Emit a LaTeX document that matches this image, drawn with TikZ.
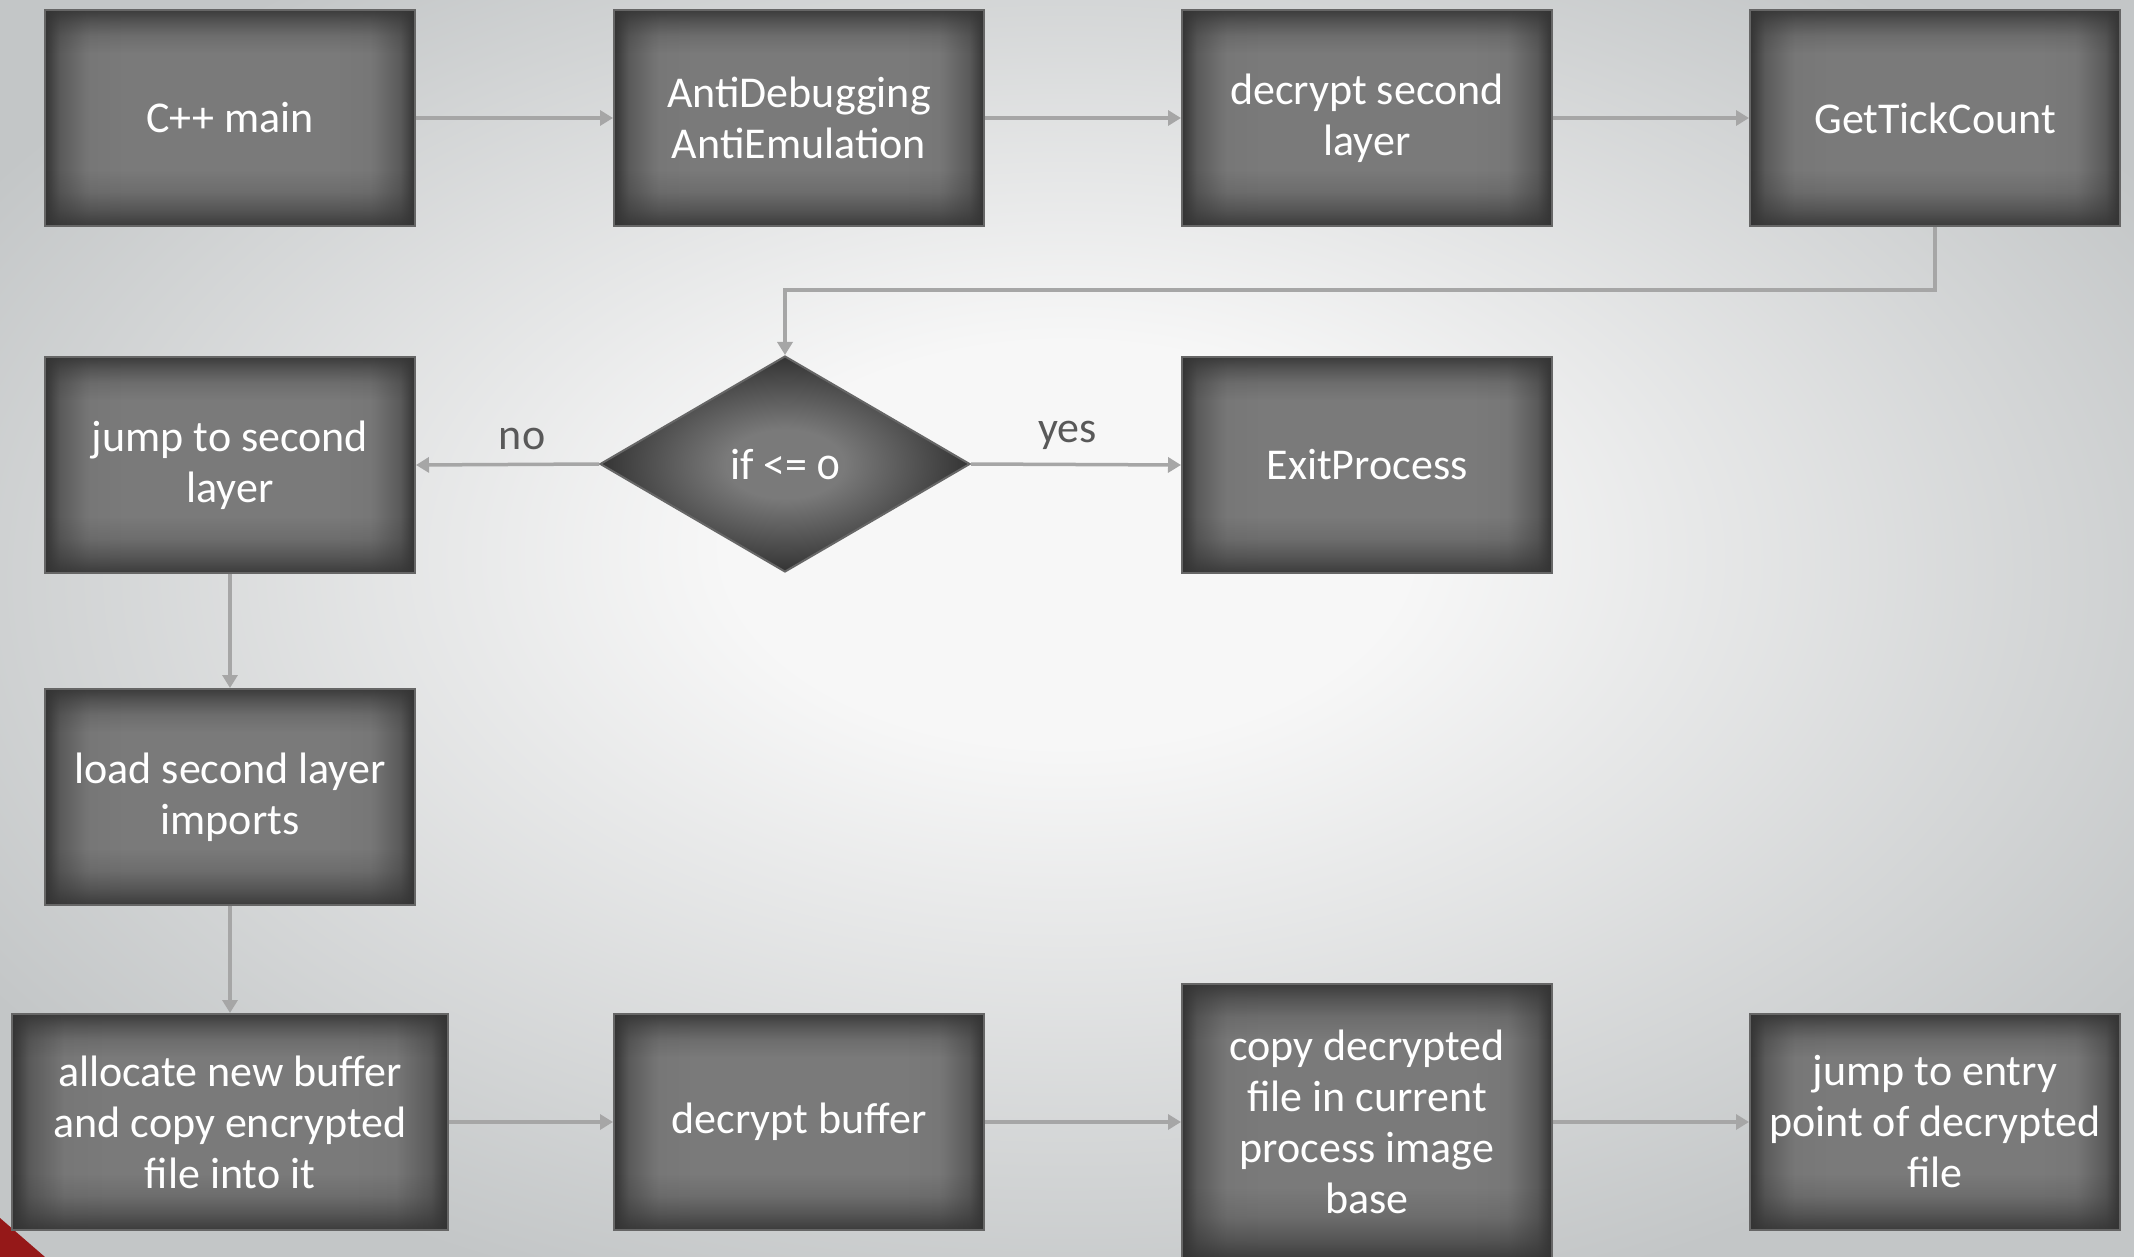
\documentclass[tikz,border=0pt]{standalone}
\usepackage{fontspec}
\setmainfont{Carlito}
\usetikzlibrary{arrows.meta,shapes.geometric,fadings}

\definecolor{boxlight}{HTML}{7A7A7A}
\definecolor{boxmid}{HTML}{5A5A5A}
\definecolor{boxdark}{HTML}{343434}
\definecolor{boxedge}{HTML}{666666}
\definecolor{linkgray}{HTML}{A6A6A6}
\definecolor{labelgray}{HTML}{595959}
\definecolor{bginner}{HTML}{F7F7F7}
\definecolor{bgouter}{HTML}{C3C6C7}
\definecolor{cornerred}{HTML}{951818}

% side bands of the boxes: dark at left and right, flat light centre
\pgfdeclarehorizontalshading{sidebands}{100bp}{%
  color(0bp)=(boxdark); color(25bp)=(boxdark); color(27bp)=(boxmid);
  color(31bp)=(boxlight!90!boxmid); color(36bp)=(boxlight); color(64bp)=(boxlight);
  color(69bp)=(boxlight!90!boxmid); color(73bp)=(boxmid); color(75bp)=(boxdark);
  color(100bp)=(boxdark)}
% mask for the top and bottom bands (white = opaque)
\pgfdeclareverticalshading{capmask}{100bp}{%
  color(0bp)=(white!90!black); color(25bp)=(white!90!black); color(29bp)=(white!50!black);
  color(33bp)=(white!18!black); color(38bp)=(black); color(65bp)=(black);
  color(69bp)=(white!18!black); color(72bp)=(white!50!black); color(75bp)=(white!90!black);
  color(100bp)=(white!90!black)}
\tikzfading[name=capbands, shading=capmask]

% centre-lit shading of the decision diamond
\pgfdeclareradialshading{diaglow}{\pgfpoint{0bp}{0bp}}{%
  color(0bp)=(boxlight); color(8bp)=(boxlight); color(25bp)=(boxdark); color(50bp)=(boxdark)}
% page background
\pgfdeclareradialshading{pageglow}{\pgfpoint{0bp}{4bp}}{%
  color(0bp)=(bginner); color(8bp)=(bginner); color(30bp)=(bgouter); color(50bp)=(bgouter)}

\tikzset{
  labeltext/.style={font=\fontsize{44}{51}\selectfont},
  stepbox/.style={rectangle, draw=boxedge, line width=2pt, shading=sidebands,
    path picture={\fill[boxdark, path fading=capbands]
      (path picture bounding box.south west) rectangle (path picture bounding box.north east);},
    minimum width=370pt, minimum height=216pt, inner sep=4pt,
    text=white, align=center, labeltext},
  decision/.style={diamond, draw=boxedge, line width=2pt, shading=diaglow,
    minimum width=370pt, minimum height=216pt, inner sep=0pt,
    text=white, align=center, labeltext},
  conn/.style={draw=linkgray, line width=3.5pt,
    -{Triangle[length=13pt,width=15pt]}},
  edgelabel/.style={text=labelgray, labeltext}
}

\begin{document}
\begin{tikzpicture}[x=1pt,y=-1pt]
  % page background
  \path[shading=pageglow] (0,0) rectangle (2134,1257);
  \useasboundingbox (0,0) rectangle (2134,1257);
  % red corner accent
  \fill[cornerred] (0,1218) -- (45,1257) -- (0,1257) -- cycle;

  % top row
  \node[stepbox] (cmain) at (230,118) {C++ main};
  \node[stepbox] (anti)  at (799,118) {AntiDebugging\\AntiEmulation};
  \node[stepbox] (dec2)  at (1367,118) {decrypt second\\layer};
  \node[stepbox] (tick)  at (1935,118) {GetTickCount};

  % decision row
  \node[stepbox]  (jump2) at (230,465) {jump to second\\layer};
  \node[decision] (check) at (785,464) {if <= {\addfontfeatures{Numbers=OldStyle}0}};
  \node[stepbox]  (exitp) at (1367,465) {ExitProcess};

  % loading
  \node[stepbox] (load) at (230,797) {load second layer\\imports};

  % bottom row
  \node[stepbox, minimum width=436pt] (alloc) at (230,1122)
    {allocate new buffer\\and copy encrypted\\file into it};
  \node[stepbox] (decbuf) at (799,1122) {decrypt buffer};
  \node[stepbox, minimum height=276pt] (copyimg) at (1367,1122)
    {copy decrypted\\file in current\\process image\\base};
  \node[stepbox] (entry) at (1935,1122) {jump to entry\\point of decrypted\\file};

  % connectors
  \draw[conn] (cmain) -- (anti);
  \draw[conn] (anti) -- (dec2);
  \draw[conn] (dec2) -- (tick);
  \coordinate (bend) at (785,290);
  \draw[conn] (tick.south) |- (bend) -- (check.north);
  \draw[conn] (check.west) -- node[edgelabel, pos=.42, yshift=25pt] {no} (jump2.east);
  \draw[conn] (check.east) -- node[edgelabel, pos=.46, yshift=29pt] {yes} (exitp.west);
  \draw[conn] (jump2) -- (load);
  \draw[conn] (load) -- (alloc);
  \draw[conn] (alloc) -- (decbuf);
  \draw[conn] (decbuf) -- (copyimg);
  \draw[conn] (copyimg) -- (entry);
\end{tikzpicture}
\end{document}
